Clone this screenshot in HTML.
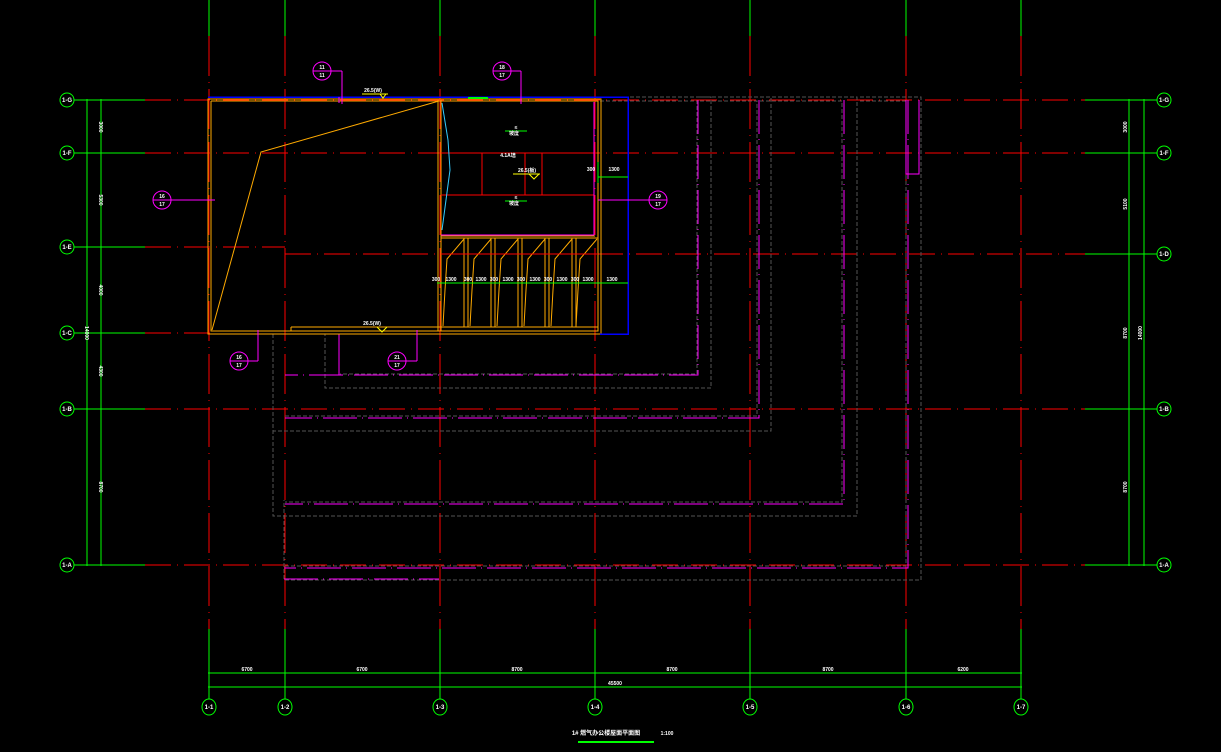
<!DOCTYPE html>
<html><head><meta charset="utf-8"><style>
html,body{margin:0;padding:0;background:#000;width:1221px;height:752px;overflow:hidden}
svg{display:block}
text{font-family:"Liberation Sans","Noto Sans CJK SC",sans-serif;fill:#fff;font-weight:bold}
</style></head><body>
<svg width="1221" height="752" viewBox="0 0 1221 752" xmlns="http://www.w3.org/2000/svg" shape-rendering="crispEdges">
<rect width="1221" height="752" fill="#000"/>
<g stroke-width="1">
<g stroke="#00ff00">
<line x1="209" y1="0" x2="209" y2="36"/><line x1="285" y1="0" x2="285" y2="36"/><line x1="440" y1="0" x2="440" y2="36"/><line x1="595" y1="0" x2="595" y2="36"/><line x1="750" y1="0" x2="750" y2="36"/><line x1="906" y1="0" x2="906" y2="36"/><line x1="1021" y1="0" x2="1021" y2="36"/>
<line x1="209" y1="629" x2="209" y2="699"/><line x1="285" y1="629" x2="285" y2="699"/><line x1="440" y1="629" x2="440" y2="699"/><line x1="595" y1="629" x2="595" y2="699"/><line x1="750" y1="629" x2="750" y2="699"/><line x1="906" y1="629" x2="906" y2="699"/><line x1="1021" y1="629" x2="1021" y2="699"/>
</g>
<g stroke="#ff0000" stroke-dasharray="40 6 1 6">
<line x1="209" y1="36" x2="209" y2="629"/><line x1="285" y1="36" x2="285" y2="629"/><line x1="440" y1="36" x2="440" y2="629"/><line x1="595" y1="36" x2="595" y2="629"/><line x1="750" y1="36" x2="750" y2="629"/><line x1="906" y1="36" x2="906" y2="629"/><line x1="1021" y1="36" x2="1021" y2="629"/>
</g>
<g stroke="#ff0000" stroke-dasharray="26 6 1 6">
<line x1="145" y1="100" x2="1085" y2="100"/>
<line x1="145" y1="153" x2="1085" y2="153"/>
<line x1="145" y1="247" x2="285" y2="247"/>
<line x1="285" y1="254" x2="1085" y2="254"/>
<line x1="145" y1="333" x2="210" y2="333"/>
<line x1="145" y1="409" x2="1085" y2="409"/>
<line x1="145" y1="565" x2="1085" y2="565"/>
</g>
<g stroke="#00ff00" fill="none">
<line x1="74" y1="100" x2="145" y2="100"/><line x1="74" y1="153" x2="145" y2="153"/><line x1="74" y1="247" x2="145" y2="247"/><line x1="74" y1="333" x2="145" y2="333"/><line x1="74" y1="409" x2="145" y2="409"/><line x1="74" y1="565" x2="145" y2="565"/>
<line x1="87" y1="99" x2="87" y2="566"/><line x1="101" y1="99" x2="101" y2="566"/>
<line x1="1085" y1="100" x2="1157" y2="100"/><line x1="1085" y1="153" x2="1157" y2="153"/><line x1="1085" y1="254" x2="1157" y2="254"/><line x1="1085" y1="409" x2="1157" y2="409"/><line x1="1085" y1="565" x2="1157" y2="565"/>
<line x1="1129" y1="99" x2="1129" y2="566"/><line x1="1144" y1="99" x2="1144" y2="566"/>
<line x1="208" y1="673" x2="1022" y2="673"/><line x1="208" y1="687" x2="1022" y2="687"/>
<line x1="578" y1="742" x2="654" y2="742" stroke-width="2"/>
<g shape-rendering="auto">
<circle cx="67" cy="100" r="7"/><circle cx="67" cy="153" r="7"/><circle cx="67" cy="247" r="7"/><circle cx="67" cy="333" r="7"/><circle cx="67" cy="409" r="7"/><circle cx="67" cy="565" r="7"/>
<circle cx="1164" cy="100" r="7"/><circle cx="1164" cy="153" r="7"/><circle cx="1164" cy="254" r="7"/><circle cx="1164" cy="409" r="7"/><circle cx="1164" cy="565" r="7"/>
<ellipse cx="209" cy="707" rx="7" ry="8"/><ellipse cx="285" cy="707" rx="7" ry="8"/><ellipse cx="440" cy="707" rx="7" ry="8"/><ellipse cx="595" cy="707" rx="7" ry="8"/><ellipse cx="750" cy="707" rx="7" ry="8"/><ellipse cx="906" cy="707" rx="7" ry="8"/><ellipse cx="1021" cy="707" rx="7" ry="8"/>
</g>
</g>
</g>
<g font-size="6" text-anchor="middle">
<text x="67" y="102">1-G</text><text x="67" y="155">1-F</text><text x="67" y="249">1-E</text><text x="67" y="335">1-C</text><text x="67" y="411">1-B</text><text x="67" y="567">1-A</text>
<text x="1164" y="102">1-G</text><text x="1164" y="155">1-F</text><text x="1164" y="256">1-D</text><text x="1164" y="411">1-B</text><text x="1164" y="567">1-A</text>
<text x="209" y="709">1-1</text><text x="285" y="709">1-2</text><text x="440" y="709">1-3</text><text x="595" y="709">1-4</text><text x="750" y="709">1-5</text><text x="906" y="709">1-6</text><text x="1021" y="709">1-7</text>
<text x="247" y="671" font-size="5">6700</text><text x="362" y="671" font-size="5">6700</text><text x="517" y="671" font-size="5">8700</text><text x="672" y="671" font-size="5">8700</text><text x="828" y="671" font-size="5">8700</text><text x="963" y="671" font-size="5">6200</text>
<text x="615" y="685" font-size="5">45500</text>
<text x="606" y="735" font-size="6">1# 燃气办公楼屋面平面图</text><text x="667" y="735" font-size="5">1:100</text>
</g>
<g font-size="5" text-anchor="middle">
<text transform="translate(99,127) rotate(90)">3000</text><text transform="translate(99,200) rotate(90)">5300</text><text transform="translate(99,290) rotate(90)">4000</text><text transform="translate(99,371) rotate(90)">4300</text><text transform="translate(99,487) rotate(90)">8700</text><text transform="translate(85,333) rotate(90)">14000</text>
<text transform="translate(1127,127) rotate(-90)">3000</text><text transform="translate(1127,204) rotate(-90)">5100</text><text transform="translate(1127,333) rotate(-90)">8700</text><text transform="translate(1142,333) rotate(-90)">14000</text><text transform="translate(1127,487) rotate(-90)">8700</text>
</g>
<g fill="none" stroke="#555" stroke-dasharray="4 2">
<path d="M600 97 H711 V388 H325 V334"/>
<path d="M600 101 H697 V374 H340"/>
<path d="M700 97 H771 V431 H273 V334"/>
<path d="M700 101 H757 V416 H285"/>
<path d="M760 97 H857 V516 H273 V416"/>
<path d="M760 101 H842 V502 H285"/>
<path d="M860 97 H921 V580 H284 V500"/>
<path d="M860 101 H906 V566 H285"/>
</g>
<g fill="none" stroke="#ff00ff" stroke-width="1.3" stroke-dasharray="34 5 1 5">
<path d="M698 100 V375 H285"/>
<path d="M759 100 V418 H285"/>
<path d="M844 100 V504 H285"/>
<path d="M908 100 V568 H284"/>
<line x1="284" y1="579" x2="439" y2="579"/>
</g>
<g fill="none" stroke="#ff00ff">
<line x1="339" y1="334" x2="339" y2="375"/>
<path d="M906 100 V174 H919 V100"/>
</g>
<g fill="none" stroke="#ffaa00">
<rect x="208" y="99" width="393" height="235"/>
<path d="M211 101 H598 V331 H291 V327 M211 101 V331 H291"/>
<path d="M291 327 H598"/>
<path d="M212 330 L261 152 L439 101" shape-rendering="auto"/>
<line x1="438" y1="100" x2="438" y2="331"/><line x1="441" y1="100" x2="441" y2="331"/>
<path d="M441 236 H595 M441 238 H598"/>
<line x1="464" y1="238" x2="464" y2="327"/><line x1="468" y1="238" x2="468" y2="327"/>
<line x1="491" y1="238" x2="491" y2="327"/><line x1="495" y1="238" x2="495" y2="327"/>
<line x1="518" y1="238" x2="518" y2="327"/><line x1="522" y1="238" x2="522" y2="327"/>
<line x1="545" y1="238" x2="545" y2="327"/><line x1="549" y1="238" x2="549" y2="327"/>
<line x1="572" y1="238" x2="572" y2="327"/><line x1="576" y1="238" x2="576" y2="327"/>
<g shape-rendering="auto">
<path d="M464 239 L447 259 L445 290 L443 326"/>
<path d="M491 239 L474 259 L472 290 L470 326"/>
<path d="M518 239 L501 259 L499 290 L497 326"/>
<path d="M545 239 L528 259 L526 290 L524 326"/>
<path d="M572 239 L555 259 L553 290 L551 326"/>
<path d="M597 239 L580 259 L578 290 L576 326"/>
</g>
</g>
<g fill="none" stroke="#ff0000">
<line x1="441" y1="153" x2="594" y2="153"/><line x1="441" y1="195" x2="594" y2="195"/>
<line x1="482" y1="153" x2="482" y2="195"/><line x1="525" y1="153" x2="525" y2="195"/><line x1="542" y1="153" x2="542" y2="195"/>
<line x1="441" y1="254" x2="598" y2="254"/>
</g>
<g fill="none" stroke="#ff00ff">
<line x1="441" y1="235" x2="594" y2="235"/><line x1="594" y1="102" x2="594" y2="235"/>
</g>
<path d="M208 97 H628 V334 H600" fill="none" stroke="#0000ff" stroke-width="1.5"/>
<path d="M442 103 L448 140 L450 170 L446 200 L442 230" fill="none" stroke="#33ccff" shape-rendering="auto"/>
<g stroke="#00ff00" fill="none">
<line x1="437" y1="283" x2="628" y2="283"/><line x1="598" y1="177" x2="628" y2="177"/><line x1="598" y1="162" x2="598" y2="183"/>
<line x1="505" y1="131" x2="527" y2="131"/><line x1="505" y1="201" x2="527" y2="201"/>
<line x1="468" y1="98" x2="488" y2="98" stroke-width="2"/>
</g>
<g font-size="5" text-anchor="middle">
<text x="436" y="281">300</text><text x="451" y="281">1300</text><text x="468" y="281">300</text><text x="481" y="281">1300</text><text x="494" y="281">300</text><text x="508" y="281">1300</text><text x="521" y="281">300</text><text x="535" y="281">1300</text><text x="548" y="281">300</text><text x="562" y="281">1300</text><text x="575" y="281">300</text><text x="588" y="281">1300</text><text x="612" y="281">1300</text>
<text x="591" y="171">300</text><text x="614" y="171">1300</text>
<text x="508" y="157">4.1A墙</text><text x="527" y="172">26.5(板)</text>
<text x="516" y="129">≤</text><text x="514" y="135">坡度</text><text x="516" y="199">≤</text><text x="514" y="205">坡度</text>
<text x="373" y="92">26.5(W)</text><text x="372" y="325">26.5(W)</text>
</g>
<g stroke="#ffff00" fill="none" shape-rendering="auto">
<line x1="362" y1="94" x2="388" y2="94"/><path d="M380 94 L383 98 L386 94"/>
<line x1="513" y1="174" x2="540" y2="174"/><path d="M529 174 L534 179 L539 174"/>
<path d="M377 327 L382 332 L387 327"/>
</g>
<g fill="none" stroke="#ff00ff">
<g shape-rendering="auto"><circle cx="322" cy="71" r="9"/><circle cx="502" cy="71" r="9"/><circle cx="162" cy="200" r="9"/><circle cx="658" cy="200" r="9"/><circle cx="239" cy="361" r="9"/><circle cx="397" cy="361" r="9"/></g>
<line x1="313" y1="71" x2="342" y2="71"/><line x1="342" y1="71" x2="342" y2="104"/><line x1="339" y1="97" x2="339" y2="103"/>
<line x1="493" y1="71" x2="521" y2="71"/><line x1="521" y1="71" x2="521" y2="104"/>
<line x1="153" y1="200" x2="215" y2="200"/>
<line x1="598" y1="200" x2="667" y2="200"/>
<line x1="230" y1="361" x2="258" y2="361"/><line x1="258" y1="361" x2="258" y2="330"/>
<line x1="388" y1="361" x2="417" y2="361"/><line x1="417" y1="361" x2="417" y2="330"/>
</g>
<g font-size="5" text-anchor="middle">
<text x="322" y="69">11</text><text x="322" y="77">11</text>
<text x="502" y="69">18</text><text x="502" y="77">17</text>
<text x="162" y="198">16</text><text x="162" y="206">17</text>
<text x="658" y="198">19</text><text x="658" y="206">17</text>
<text x="239" y="359">16</text><text x="239" y="367">17</text>
<text x="397" y="359">21</text><text x="397" y="367">17</text>
</g>
</svg>
</body></html>
